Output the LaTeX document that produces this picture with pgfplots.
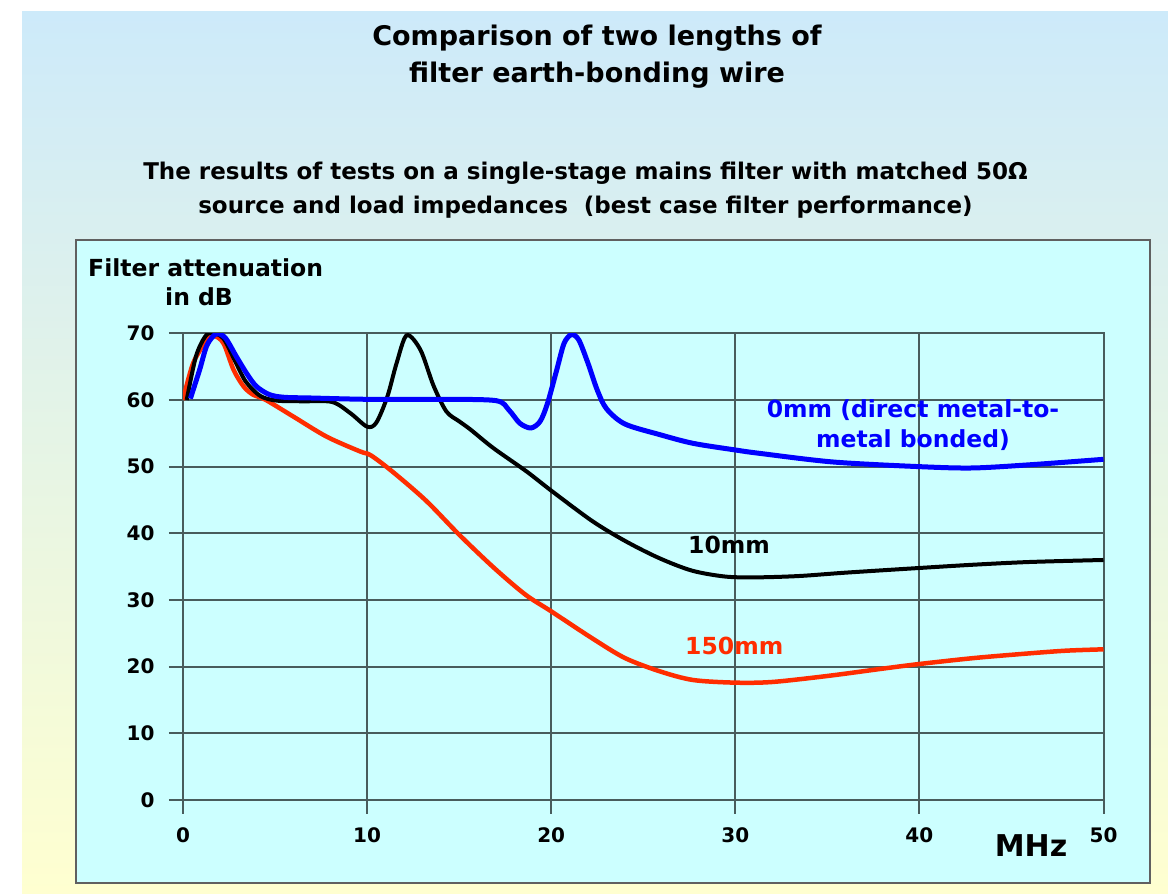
\documentclass[border=0pt]{standalone}
\usepackage{pgfplots}
\pgfplotsset{compat=1.18}
\usepackage{fontspec}
\setmainfont{DejaVu Sans}
\definecolor{bgblue}{RGB}{205,234,250}
\definecolor{bgyellow}{RGB}{255,255,208}
\definecolor{panel}{RGB}{204,255,255}
\definecolor{gridc}{RGB}{72,92,92}
\definecolor{cred}{RGB}{255,45,0}
\definecolor{cblue}{RGB}{0,0,255}
\begin{document}
\begin{tikzpicture}[x=1pt,y=1pt]
\fill[white] (0,0) rectangle (1168,894);
\shade[top color=bgblue, bottom color=bgyellow] (22,0) rectangle (1168,882);
\filldraw[fill=panel, draw=gray!75!black, line width=2pt] (76,11) rectangle (1150,654);
\begin{axis}[
  at={(183pt,94pt)}, anchor=south west, scale only axis,
  width=920.5pt, height=466.7pt,
  xmin=0, xmax=50, ymin=0, ymax=70,
  xtick={0,10,...,50}, ytick={0,10,...,70},
  grid=major, grid style={gridc, line width=2pt},
  axis line style={gridc, line width=2pt},
  every tick/.style={gridc, line width=2pt},
  tick align=outside, major tick length=14pt, tick pos=left,
  ticklabel style={font=\bfseries\fontsize{20}{22}\selectfont},
  yticklabel style={xshift=-11pt},
  xticklabel style={yshift=-10pt},
  /pgf/number format/assume math mode=true,
]
\addplot[cred, line width=4.5pt, smooth] coordinates {
(0,60) (0.55,65.5) (1.3,69) (1.7,69.6) (2.2,68.5) (2.75,64.5) (3.3,62) (3.8,60.8) (4.5,60)
(6.0,57.5) (7.8,54.5) (9.6,52.3) (10.2,51.7) (11.4,49.2) (13.2,44.9) (15.0,39.8) (16.9,34.8)
(18.6,30.8) (20.0,28.3) (22.2,24.3) (24.0,21.3) (25.9,19.3) (27.7,18.0) (30.0,17.6) (32,17.7)
(35,18.6) (38,19.7) (40,20.4) (43,21.3) (46,22.0) (48,22.4) (50,22.6)};
\addplot[black, line width=4pt, smooth] coordinates {
(0.2,60) (0.7,66.5) (1.2,69.5) (1.6,70.1) (2.2,69.2) (2.8,66) (3.4,62.8) (4.2,60.6) (5.1,59.9)
(6.5,59.8) (8.1,59.7) (9.1,58.0) (10.0,56.0) (10.5,56.6) (11.1,60.5) (11.6,65.5) (12.15,69.7)
(12.9,67.5) (13.6,62.2) (14.3,58.3) (15.0,56.8) (15.6,55.6) (16.85,52.8) (18.65,49.3) (20.05,46.3)
(22.25,41.8) (24.05,38.8) (25.85,36.3) (27.65,34.4) (29.5,33.5) (31.3,33.4) (33.5,33.6) (36,34.1)
(40,34.8) (43,35.3) (46,35.7) (50,36.0)};
\addplot[cblue, line width=5pt, smooth] coordinates {
(0.4,60.2) (0.9,64.5) (1.3,68.2) (1.8,69.9) (2.3,69.3) (2.9,66.5) (3.5,63.8) (4.0,62.0) (4.7,60.8)
(5.5,60.4) (6.9,60.3) (10,60.1) (14,60.1) (17.0,59.9) (17.7,58.5) (18.3,56.5) (18.9,55.8) (19.4,56.8)
(19.8,59.5) (20.3,64.5) (20.7,68.5) (21.1,69.8) (21.5,69.0) (22.0,65.5) (22.5,61.5) (23.0,58.7)
(24.0,56.4) (25.9,54.8) (27.7,53.5) (30,52.5) (31.3,52.0) (35.3,50.7) (40,50.0) (42.9,49.8)
(46.1,50.3) (50,51.1)};
\end{axis}
\node[font=\bfseries\fontsize{27}{30}\selectfont] at (597,856) {Comparison of two lengths of};
\node[font=\bfseries\fontsize{27}{30}\selectfont] at (597,819) {filter earth-bonding wire};
\node[font=\bfseries\fontsize{23}{26}\selectfont] at (585.5,721) {The results of tests on a single-stage mains filter with matched 50Ω};
\node[font=\bfseries\fontsize{23}{26}\selectfont] at (585.5,687) {source and load impedances\ \ (best case filter performance)};
\node[anchor=west, inner sep=0, font=\bfseries\fontsize{23.5}{26}\selectfont] at (88,626) {Filter attenuation};
\node[anchor=west, inner sep=0, font=\bfseries\fontsize{23.5}{26}\selectfont] at (165,597) {in dB};
\node[inner sep=0, font=\bfseries\fontsize{30}{32}\selectfont] at (1031,48) {MHz};
\node[cblue, align=center, inner sep=0, font=\bfseries\fontsize{23.5}{30}\selectfont] at (913,469) {0mm (direct metal-to-\\metal bonded)};
\node[anchor=west, inner sep=0, font=\bfseries\fontsize{23.5}{26}\selectfont] at (688,349) {10mm};
\node[anchor=west, cred, inner sep=0, font=\bfseries\fontsize{23.5}{26}\selectfont] at (685,248) {150mm};
\end{tikzpicture}
\end{document}
